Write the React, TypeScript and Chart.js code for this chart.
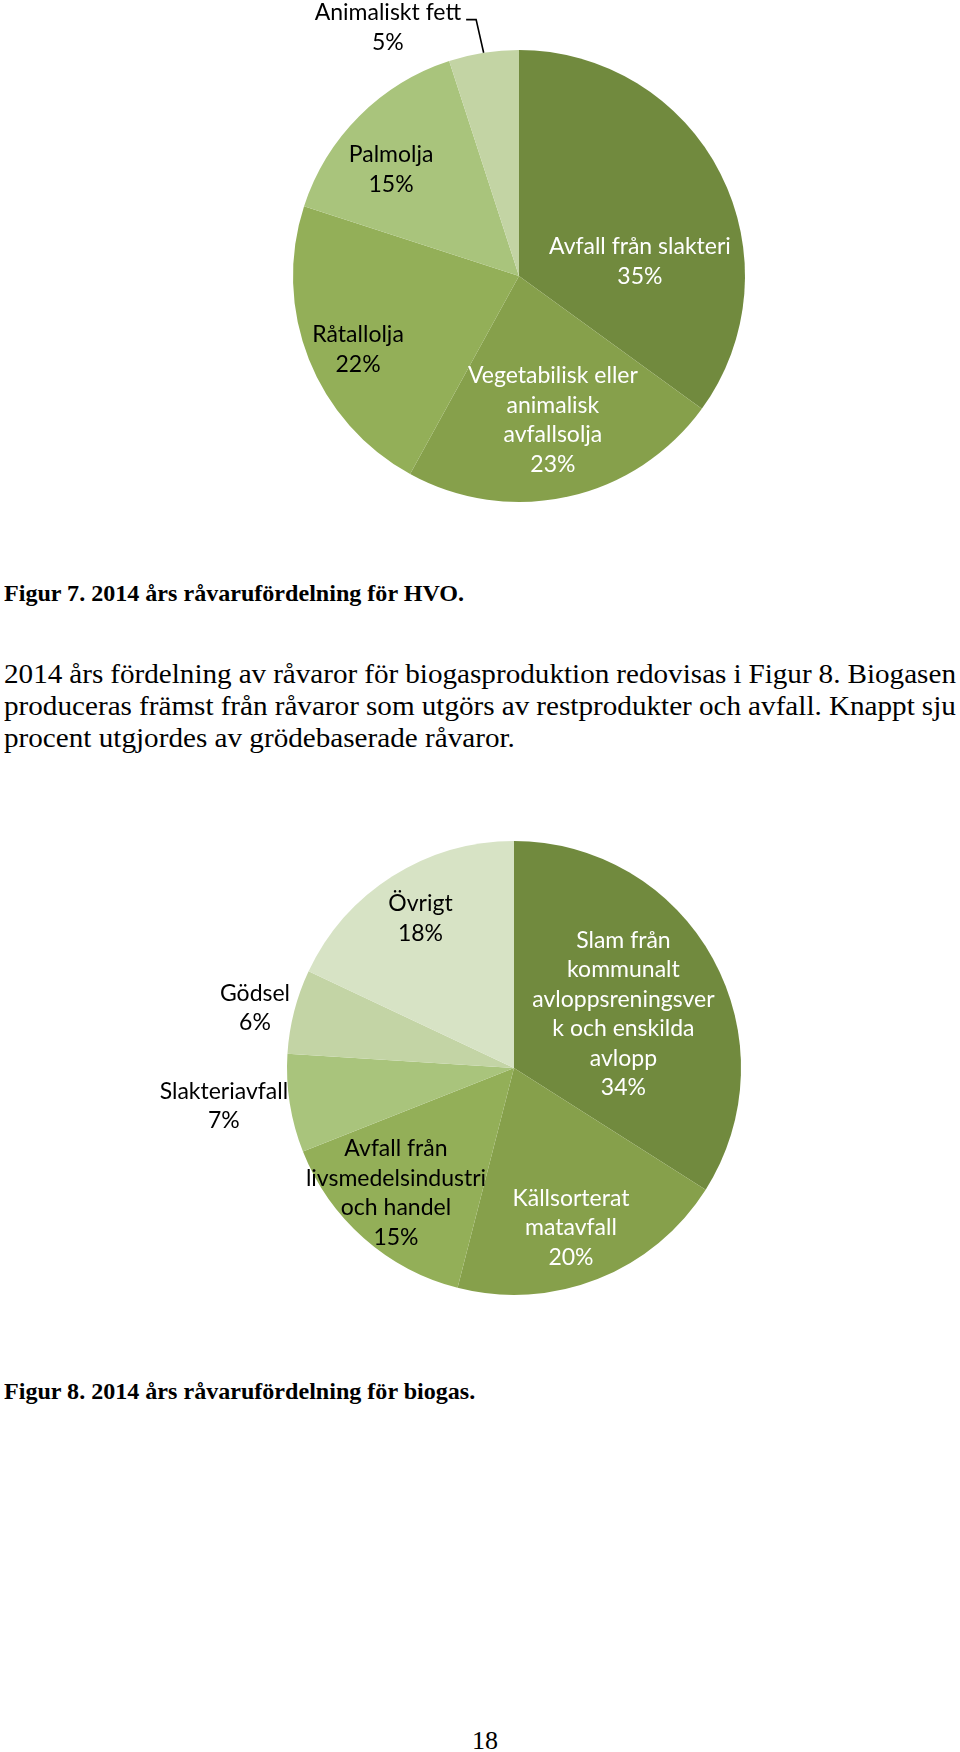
import React, { useEffect, useRef } from "react";
import { Chart, registerables } from "chart.js";

Chart.register(...registerables);

// ---------- DATA ----------
const hvoCategories: string[][] = [
  ["Avfall från slakteri"],
  ["Vegetabilisk eller", "animalisk", "avfallsolja"],
  ["Råtallolja"],
  ["Palmolja"],
  ["Animaliskt fett"],
];
const hvoValues: number[] = [35, 23, 22, 15, 5];

const biogasCategories: string[][] = [
  ["Slam från", "kommunalt", "avloppsreningsver", "k och enskilda", "avlopp"],
  ["Källsorterat", "matavfall"],
  ["Avfall från", "livsmedelsindustri", "och handel"],
  ["Slakteriavfall"],
  ["Gödsel"],
  ["Övrigt"],
];
const biogasValues: number[] = [34, 20, 15, 7, 6, 18];

const caption7 = "Figur 7. 2014 års råvarufördelning för HVO.";
const caption8 = "Figur 8. 2014 års råvarufördelning för biogas.";
const paragraphLines: string[] = [
  "2014 års fördelning av råvaror för biogasproduktion redovisas i Figur 8. Biogasen",
  "produceras främst från råvaror som utgörs av restprodukter och avfall. Knappt sju",
  "procent utgjordes av grödebaserade råvaror.",
];
const pageNumber = "18";

// ---------- STYLE / LAYOUT ----------
const hvoColors = ["#718A3E", "#86A04B", "#93AF58", "#A9C47C", "#C3D4A4"];
const hvoLabelColors = ["#FFFFFF", "#FFFFFF", "#000000", "#000000", "#000000"];
const hvoLabelOffsets: [number, number][] = [
  [0.535, -0.064],
  [0.15, 0.638],
  [-0.712, 0.325],
  [-0.566, -0.47],
  [-0.58, -1.1],
];
const hvoLeaders = [false, false, false, false, true];

const biogasColors = ["#718A3E", "#86A04B", "#93AF58", "#A9C47C", "#C3D4A5", "#D7E3C5"];
const biogasLabelColors = ["#FFFFFF", "#FFFFFF", "#000000", "#000000", "#000000", "#000000"];
const biogasLabelOffsets: [number, number][] = [
  [0.482, -0.237],
  [0.251, 0.704],
  [-0.52, 0.552],
  [-1.278, 0.168],
  [-1.141, -0.264],
  [-0.412, -0.658],
];
const biogasLeaders = [false, false, false, false, false, false];

const LABEL_FONT = '23px Lato, "Open Sans", sans-serif';
const LABEL_LH = 29.5;
const SERIF = '"Liberation Serif", "Times New Roman", serif';

function makeLabelPlugin(
  categories: string[][],
  labelColors: string[],
  offsets: [number, number][],
  leaders: boolean[]
) {
  return {
    id: "sliceLabels",
    afterDatasetsDraw(chart: any) {
      const ctx = chart.ctx as CanvasRenderingContext2D;
      const meta = chart.getDatasetMeta(0);
      const values = chart.data.datasets[0].data as number[];
      ctx.save();
      ctx.font = LABEL_FONT;
      ctx.textAlign = "center";
      ctx.textBaseline = "middle";
      meta.data.forEach((arc: any, i: number) => {
        const p = arc.getProps(["x", "y", "outerRadius", "startAngle", "endAngle"], true);
        const lines = [...categories[i], `${values[i]}%`];
        const cx = p.x + offsets[i][0] * p.outerRadius;
        const cy = p.y + offsets[i][1] * p.outerRadius;
        ctx.fillStyle = labelColors[i];
        lines.forEach((t, k) => {
          ctx.fillText(t, cx, cy + (k - (lines.length - 1) / 2) * LABEL_LH);
        });
        if (leaders[i]) {
          const firstY = cy - ((lines.length - 1) / 2) * LABEL_LH;
          const w = ctx.measureText(lines[0]).width;
          const sx = cx + w / 2 + 5;
          const sy = firstY + 7;
          const mid = (p.startAngle + p.endAngle) / 2;
          const ex = p.x + Math.cos(mid) * p.outerRadius;
          const ey = p.y + Math.sin(mid) * p.outerRadius;
          ctx.strokeStyle = "#000000";
          ctx.lineWidth = 1.6;
          ctx.beginPath();
          ctx.moveTo(sx, sy);
          ctx.lineTo(sx + 10, sy);
          ctx.lineTo(ex, ey);
          ctx.stroke();
        }
      });
      ctx.restore();
    },
  };
}

type PieProps = {
  categories: string[][];
  values: number[];
  colors: string[];
  labelColors: string[];
  offsets: [number, number][];
  leaders: boolean[];
  top: number;
  height: number;
  padding: { left: number; right: number; top: number; bottom: number };
};

function PieChart(props: PieProps) {
  const ref = useRef<HTMLCanvasElement>(null);
  useEffect(() => {
    const chart = new Chart(ref.current as HTMLCanvasElement, {
      type: "pie",
      data: {
        labels: props.categories.map((c) => c.join(" ")),
        datasets: [
          {
            data: props.values,
            backgroundColor: props.colors,
            borderWidth: 0,
            hoverOffset: 0,
          },
        ],
      },
      options: {
        responsive: false,
        maintainAspectRatio: false,
        animation: false,
        events: [],
        layout: { padding: props.padding },
        plugins: {
          legend: { display: false },
          tooltip: { enabled: false },
        },
      },
      plugins: [makeLabelPlugin(props.categories, props.labelColors, props.offsets, props.leaders)],
    } as any);
    return () => chart.destroy();
  }, []);
  return (
    <canvas
      ref={ref}
      width={960}
      height={props.height}
      style={{ position: "absolute", left: 0, top: props.top, width: 960, height: props.height }}
    />
  );
}

const BODY_SIZE = 27;
const BODY_SCALE = 1.08;
const CAP_SIZE = 22.5;
const CAP_SCALE = 1.07;

function JustifiedLine({ text, top }: { text: string; top: number }) {
  const words = text.split(" ");
  return (
    <div
      style={{
        position: "absolute",
        left: 4,
        top,
        width: 952 / BODY_SCALE,
        display: "flex",
        justifyContent: "space-between",
        whiteSpace: "nowrap",
        fontFamily: SERIF,
        fontSize: BODY_SIZE,
        lineHeight: "32px",
        color: "#000",
        transform: `scaleX(${BODY_SCALE})`,
        transformOrigin: "left top",
      }}
    >
      {words.map((w, i) => (
        <span key={i}>{w}</span>
      ))}
    </div>
  );
}

function PlainLine({ text, top }: { text: string; top: number }) {
  return (
    <div
      style={{
        position: "absolute",
        left: 4,
        top,
        whiteSpace: "nowrap",
        fontFamily: SERIF,
        fontSize: BODY_SIZE,
        lineHeight: "32px",
        color: "#000",
        transform: `scaleX(${BODY_SCALE})`,
        transformOrigin: "left top",
      }}
    >
      {text}
    </div>
  );
}

function Caption({ text, top }: { text: string; top: number }) {
  return (
    <div
      style={{
        position: "absolute",
        left: 4,
        top,
        whiteSpace: "nowrap",
        fontFamily: SERIF,
        fontWeight: "bold",
        fontSize: CAP_SIZE,
        lineHeight: "30px",
        color: "#000",
        transform: `scaleX(${CAP_SCALE})`,
        transformOrigin: "left top",
      }}
    >
      {text}
    </div>
  );
}

export default function App() {
  return (
    <div
      style={{
        position: "absolute",
        left: 0,
        top: 0,
        width: 960,
        height: 1752,
        background: "#FFFFFF",
        overflow: "hidden",
      }}
    >
      <PieChart
        categories={hvoCategories}
        values={hvoValues}
        colors={hvoColors}
        labelColors={hvoLabelColors}
        offsets={hvoLabelOffsets}
        leaders={hvoLeaders}
        top={0}
        height={530}
        padding={{ left: 293, right: 215, top: 50, bottom: 28 }}
      />
      <Caption text={caption7} top={579.4} />
      <JustifiedLine text={paragraphLines[0]} top={658} />
      <JustifiedLine text={paragraphLines[1]} top={690} />
      <PlainLine text={paragraphLines[2]} top={722} />
      <PieChart
        categories={biogasCategories}
        values={biogasValues}
        colors={biogasColors}
        labelColors={biogasLabelColors}
        offsets={biogasLabelOffsets}
        leaders={biogasLeaders}
        top={780}
        height={540}
        padding={{ left: 287, right: 219, top: 61, bottom: 25 }}
      />
      <Caption text={caption8} top={1377.4} />
      <div
        style={{
          position: "absolute",
          left: 435,
          top: 1726,
          width: 100,
          textAlign: "center",
          fontFamily: SERIF,
          fontSize: 26,
          lineHeight: "30px",
          color: "#000",
        }}
      >
        {pageNumber}
      </div>
    </div>
  );
}
